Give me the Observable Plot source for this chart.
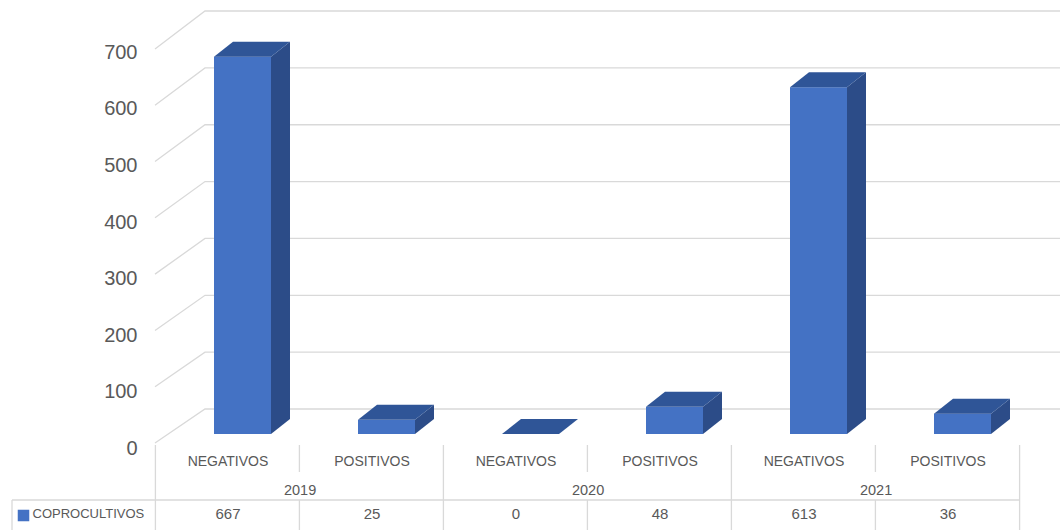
<!DOCTYPE html>
<html><head><meta charset="utf-8">
<script src="https://cdn.jsdelivr.net/npm/d3@7"></script>
<script src="https://cdn.jsdelivr.net/npm/@observablehq/plot@0.6"></script>
<style>body{margin:0;background:#fff;} svg{font-family:"Liberation Sans",Arial,sans-serif;}</style>
</head><body><div id="chart"></div>
<script>
// ---- data ----
const categories = ["NEGATIVOS","POSITIVOS","NEGATIVOS","POSITIVOS","NEGATIVOS","POSITIVOS"];
const years = ["2019","2019","2020","2020","2021","2021"];
const values = [667, 25, 0, 48, 613, 36];
const seriesName = "COPROCULTIVOS";
const yTicks = [0,100,200,300,400,500,600,700];

const data = categories.map((c,i)=>({key: years[i]+" "+c, category: c, year: years[i], value: values[i]}));
const keys = data.map(d=>d.key);
const yearGroups = Array.from(new Set(years)).map(y=>({year: y, first: data.find(d=>d.year===y).key}));

// ---- layout / style ----
const W = 1060, H = 530, ML = 170, MR = 25, MT = 38, MB = 96;
const step = (W - ML - MR) / keys.length;
const SHIFT = 15;            // perspective shift of table vs bar faces
const DX = 19, DY = -15;      // bar depth
const FRONT = "#4472C4", SIDE = "#2C4C88", TOP = "#2F5597";
const GRID = "#D9D9D9", TXT = "#595959";

function bars3d(index, scales, vals, dims, ctx, next) {
  const g = next(index, scales, vals, dims, ctx);
  const x = scales.x, y = scales.y;
  const bw = x.bandwidth ? x.bandwidth() : scales.scales.x.bandwidth;
  const sel = d3.select(g);
  for (const i of index) {
    const d = data[i];
    const x1 = x(d.key), x2 = x1 + bw, y0 = y(0), yv = y(d.value);
    sel.append("polygon").attr("fill", SIDE)
      .attr("points", [[x2,y0],[x2,yv],[x2+DX,yv+DY],[x2+DX,y0+DY]].join(" "));
    sel.append("polygon").attr("fill", TOP)
      .attr("points", [[x1,yv],[x1+DX,yv+DY],[x2+DX,yv+DY],[x2,yv]].join(" "));
  }
  return g;
}

function gridWalls(index, scales, vals, dims) {
  const y = scales.y, y0 = y(0);
  const g = d3.create("svg:g").attr("fill","none").attr("stroke",GRID).attr("stroke-width",1.3);
  for (const t of yTicks) {
    const yb = y(t);
    const yf = y0 + 9 + (yb - y0) * 0.995;
    const yk = y0 - 25 + (yb - y0) * 1.005;
    g.append("path").attr("d", `M${ML-15},${yf}L${ML+35},${yk}L${W},${yk}`);
  }
  return g.node();
}

function tableLines(index, scales, vals, dims) {
  const x = scales.x, y0 = scales.y(0);
  const bw = x.bandwidth ? x.bandwidth() : scales.scales.x.bandwidth;
  const left = i => x(keys[i]) + bw/2 - step/2 - SHIFT;
  const right = left(keys.length - 1) + step;
  const top = y0 + 11, mid = y0 + 38, row = y0 + 66, bot = H;
  const g = d3.create("svg:g").attr("fill","none").attr("stroke",GRID).attr("stroke-width",1.3);
  const v = (xx, a, b) => g.append("line").attr("x1",xx).attr("x2",xx).attr("y1",a).attr("y2",b);
  for (let i = 0; i < keys.length; i++) {
    const xx = left(i);
    if (i === 0 || years[i] !== years[i-1]) v(xx, top, bot);
    else { v(xx, top, mid); v(xx, row, bot); }
  }
  v(right, top, bot);
  v(12, row, bot);
  g.append("line").attr("x1",12).attr("x2",right).attr("y1",row).attr("y2",row);
  return g.node();
}

const chart = Plot.plot({
  width: W, height: H,
  marginLeft: ML, marginRight: MR, marginTop: MT, marginBottom: MB,
  x: {type: "band", domain: keys, paddingInner: 0.605, paddingOuter: 0.3025, axis: null},
  y: {domain: [0, 700], axis: null},
  marks: [
    Plot.ruleY(yTicks, {y: d=>d, render: gridWalls}),
    Plot.ruleX(keys, {x: d=>d, render: tableLines}),
    Plot.text(yTicks, {y: d=>d, text: d=>String(d), frameAnchor: "left", textAnchor: "end",
      dx: -33, dy: 14, fontSize: 20, fill: TXT}),
    Plot.barY(data, {x: "key", y: "value", fill: FRONT, render: bars3d}),
    Plot.text(data, {x: "key", text: "category", frameAnchor: "bottom", dx: -SHIFT, dy: 31,
      fontSize: 14, fill: TXT}),
    Plot.text(yearGroups, {x: "first", text: "year", frameAnchor: "bottom", dx: step/2 - SHIFT, dy: 60,
      fontSize: 14.5, fill: TXT}),
    Plot.text(data, {x: "key", text: d=>String(d.value), frameAnchor: "bottom", dx: -SHIFT, dy: 84,
      fontSize: 15, fill: TXT}),
    Plot.dot([seriesName], {frameAnchor: "bottom-left", symbol: "square", r: 6.5, dx: 23 - ML, dy: 81,
      fill: FRONT, stroke: "none"}),
    Plot.text([seriesName], {text: d=>d, frameAnchor: "bottom-left", textAnchor: "start", dx: 32 - ML, dy: 83,
      fontSize: 13, fill: TXT})
  ]
});
document.getElementById("chart").appendChild(chart);
</script>
</body></html>
